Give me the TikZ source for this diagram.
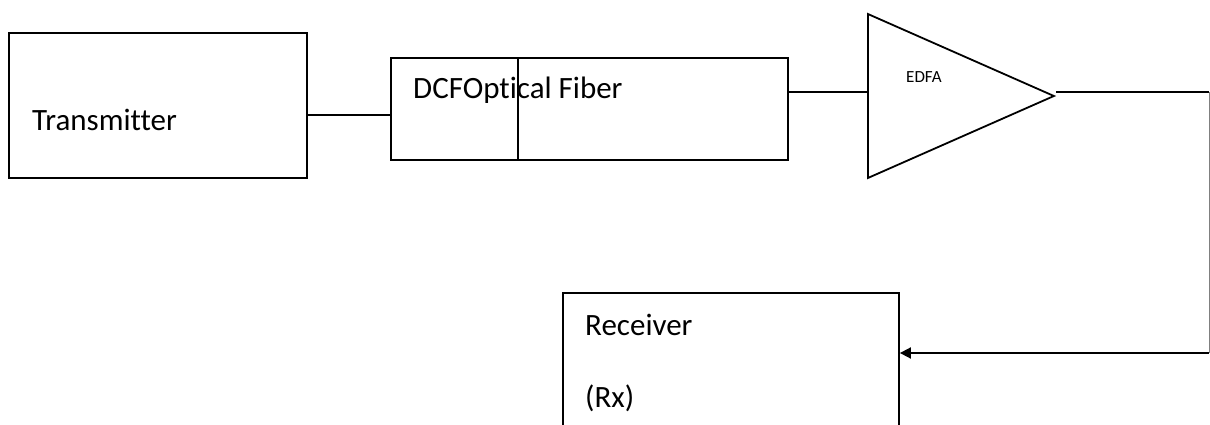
\documentclass[tikz,border=0pt]{standalone}
\usepackage{fontspec}
\setmainfont{Carlito}[Ligatures=NoCommon]
\usetikzlibrary{arrows.meta,positioning,shapes.geometric,calc}

\begin{document}
\begin{tikzpicture}[
    x=1pt, y=-1pt,
    block/.style={rectangle, draw=black, line width=1.8pt, inner sep=0pt},
    amp/.style={isosceles triangle, isosceles triangle stretches, shape border rotate=0, draw=black, line width=1.8pt, inner sep=0pt, minimum width=164pt, minimum height=186pt},
    lbl/.style={anchor=base west, inner sep=0pt, font=\fontsize{31}{37}\selectfont},
    wire/.style={line width=1.8pt},
    arrow/.style={-{Triangle[length=11pt, width=11pt]}, line width=1.8pt}
]
    \useasboundingbox (0,0) rectangle (1210,425);

    \node[block, minimum width=298pt, minimum height=145pt] (tx)    at (158,105.5) {};
    \node[block, minimum width=127pt, minimum height=102pt] (dcf)   at (454.5,109) {};
    \node[block, minimum width=270pt, minimum height=102pt] (fiber) at (653,109) {};
    \node[amp, anchor=lower side] (edfa) at (867,96) {};
    \node[block, minimum width=336pt, minimum height=200pt] (rx)    at (731,393) {};

    \node[lbl] (txlbl)  at (32,131)  {Transmitter};
    \node[lbl] (dcflbl) at (413,99)  {DCFOptical Fiber};
    \node[lbl, font=\fontsize{17}{20}\selectfont] (edfalbl) at (906,83) {EDFA};
    \node[lbl] (rxlbl)  at (585,335) {Receiver};
    \node[lbl] (rxtag)  at (585,407) {(Rx)};

    \coordinate (c1) at (1209,92);
    \coordinate (c2) at (1209,353);

    \draw[wire] (tx.east |- 0,115) -- (dcf.west |- 0,115);
    \draw[wire] (fiber.east |- c1) -- (edfa.lower side |- c1);
    \draw[wire] (edfa.apex |- c1) -- (c1);
    \draw[gray, line width=1pt] (c1) -- (c2);
    \draw[arrow] (c2) -- (rx.east |- c2);
\end{tikzpicture}
\end{document}
